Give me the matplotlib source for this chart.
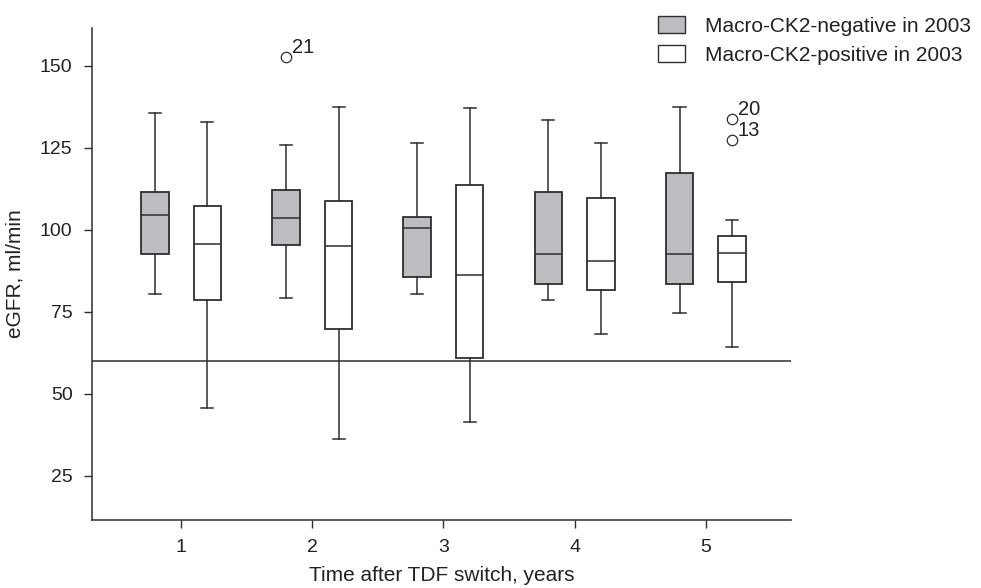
import numpy as np
import matplotlib
matplotlib.use("Agg")
import matplotlib.pyplot as plt
from matplotlib.patches import Patch

plt.rcParams["font.family"] = ["Liberation Sans", "DejaVu Sans"]

years = [1, 2, 3, 4, 5]

# Macro-CK2-negative (grey boxes): whisker low, Q1, median, Q3, whisker high
neg_wlo = [80.5, 79.2, 80.3, 78.5, 74.6]
neg_q1 = [92.5, 95.3, 85.5, 83.6, 83.6]
neg_med = [104.5, 103.6, 100.6, 92.5, 92.7]
neg_q3 = [111.5, 112.0, 103.9, 111.6, 117.4]
neg_whi = [135.5, 125.8, 126.4, 133.5, 137.4]
neg_fliers = [[], [152.6], [], [], []]
neg_flier_ids = [[], ["21"], [], [], []]

# Macro-CK2-positive (white boxes)
pos_wlo = [45.5, 36.2, 41.4, 68.1, 64.3]
pos_q1 = [78.7, 69.6, 60.9, 81.5, 84.1]
pos_med = [95.6, 95.0, 86.1, 90.5, 93.0]
pos_q3 = [107.2, 108.7, 113.6, 109.6, 98.0]
pos_whi = [132.8, 137.5, 137.0, 126.4, 103.1]
pos_fliers = [[], [], [], [], [133.7, 127.5]]
pos_flier_ids = [[], [], [], [], ["20", "13"]]

threshold = 60
labels = ["Macro-CK2-negative in 2003", "Macro-CK2-positive in 2003"]

edge = "#2e2e2e"
grey = "#bcbdc0"
txt = "#222222"

fig = plt.figure(figsize=(9.81, 5.88), dpi=100)
ax = fig.add_axes([0.0938, 0.1156, 0.7125, 0.8368])


def make_stats(wlo, q1, med, q3, whi, fliers):
    return [dict(whislo=a, q1=b, med=c, q3=d, whishi=e, fliers=f)
            for a, b, c, d, e, f in zip(wlo, q1, med, q3, whi, fliers)]


line = dict(color=edge, linewidth=1.1)
groups = [
    (make_stats(neg_wlo, neg_q1, neg_med, neg_q3, neg_whi, neg_fliers), -0.2, grey, neg_fliers, neg_flier_ids),
    (make_stats(pos_wlo, pos_q1, pos_med, pos_q3, pos_whi, pos_fliers), 0.2, "white", pos_fliers, pos_flier_ids),
]
for stats, off, fc, fl, ids in groups:
    pos = [y + off for y in years]
    ax.bxp(stats, positions=pos, widths=0.21, patch_artist=True,
           capwidths=0.092, manage_ticks=False,
           boxprops=dict(facecolor=fc, edgecolor=edge, linewidth=1.3),
           medianprops=line, whiskerprops=line, capprops=line,
           flierprops=dict(marker="o", markerfacecolor="white",
                           markeredgecolor=edge, markersize=7.5, markeredgewidth=0.9))
    for p, vals, names in zip(pos, fl, ids):
        for v, n in zip(vals, names):
            ax.annotate(n, (p, v), xytext=(4, 0), textcoords="offset points",
                        fontsize=14.5, color=txt, va="bottom", ha="left")

ax.axhline(threshold, color=edge, linewidth=1.1, zorder=0)

ax.set_xlim(0.32, 5.65)
ax.set_ylim(11.5, 161.5)
ax.set_xticks(years)
ax.set_yticks([25, 50, 75, 100, 125, 150])
ax.spines["top"].set_visible(False)
ax.spines["right"].set_visible(False)
for s in ("left", "bottom"):
    ax.spines[s].set_color(edge)
    ax.spines[s].set_linewidth(1.1)
ax.tick_params(direction="out", length=6, width=1.0, color=edge,
               labelsize=14, labelcolor=txt, pad=8)
ax.set_xlabel("Time after TDF switch, years", fontsize=15, color=txt, labelpad=7)
ax.set_ylabel("eGFR, ml/min", fontsize=15, color=txt, labelpad=11)

handles = [Patch(facecolor=grey, edgecolor=edge, linewidth=1.0),
           Patch(facecolor="white", edgecolor=edge, linewidth=1.0)]
fig.legend(handles, labels, loc="upper left", bbox_to_anchor=(0.6707, 0.973),
           frameon=False, fontsize=15, handlelength=1.3, handleheight=0.87,
           handletextpad=0.95, labelspacing=0.45, labelcolor=txt,
           borderpad=0, borderaxespad=0)

fig.savefig("out.png", dpi=100)
